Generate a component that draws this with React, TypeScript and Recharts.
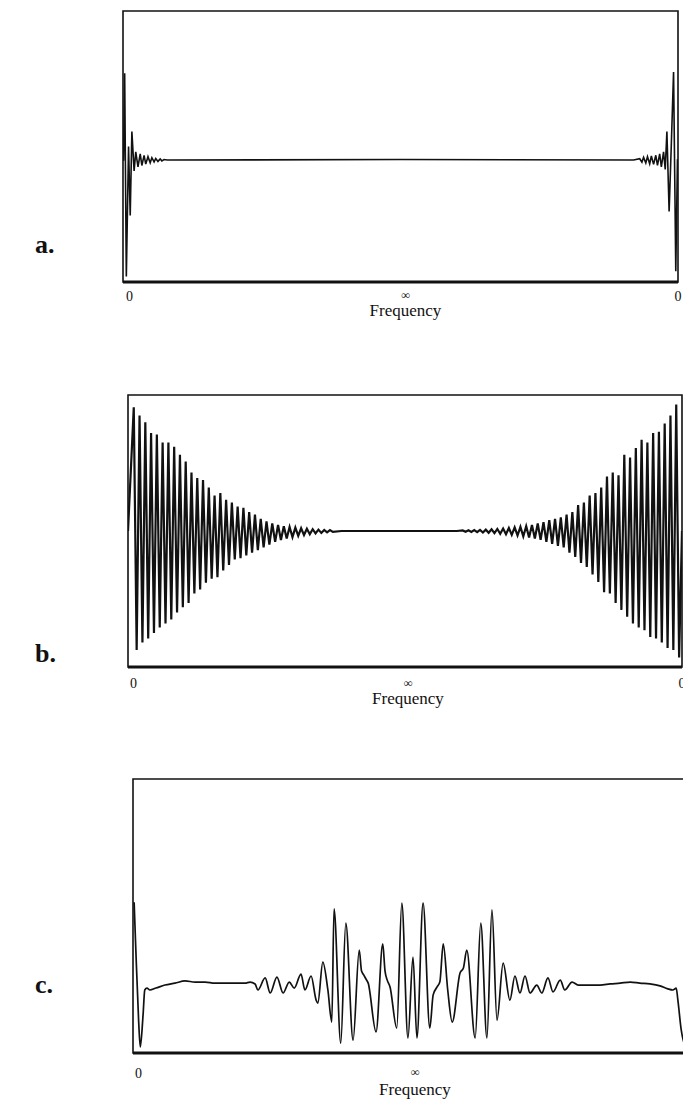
import React from 'react';
import { LineChart, Line, XAxis, YAxis, ReferenceArea } from 'recharts';

// ---------- shared text styles ----------
const SERIF = '"Liberation Serif", "DejaVu Serif", serif';
const INK = '#111';

// ---------- panel a: sharp transient, ringing only near the band edges ----------
// frequency in per-mille of the span (0 … ∞ … 0), amplitude around the baseline
const aFreq = [
  0, 1, 3, 6, 10, 13, 16, 20, 23, 27, 31, 34, 38, 41, 45, 49, 52, 56, 59, 63, 67, 70, 74, 80,
  500,
  920, 931, 935, 938, 942, 945, 949, 952, 956, 960, 963, 967, 970, 974, 977, 980, 984, 988, 992,
  996, 999, 1000,
];
const aAmp = [
  0, 0, 0.64, -0.86, 0.1, -0.41, 0.21, -0.08, 0.06, -0.05, 0.045, -0.04, 0.035, -0.03, 0.025,
  -0.02, 0.017, -0.014, 0.012, -0.01, 0.008, -0.006, 0.004, 0,
  0.004,
  0, 0.01, -0.015, 0.02, -0.022, 0.025, -0.028, 0.03, -0.032, 0.035, -0.04, 0.045, -0.05, 0.06,
  -0.07, 0.21, -0.38, 0.12, 0.65, -0.82, 0, 0,
];

// ---------- panel b: long decaying oscillation from both band edges ----------
// successive crest / trough values, one per half-cycle sample
const bLeftTops = [
  0.91, 0.85, 0.8, 0.72, 0.71, 0.65, 0.65, 0.62, 0.56, 0.51, 0.43, 0.39, 0.375, 0.32, 0.26, 0.28,
  0.23, 0.21, 0.18, 0.17, 0.14, 0.12, 0.09, 0.07, 0.055, 0.045, 0.035, 0.03, 0.025, 0.02, 0.016,
  0.013, 0.01, 0.008, 0.006,
];
const bLeftBottoms = [
  -0.875, -0.82, -0.79, -0.75, -0.71, -0.68, -0.65, -0.6, -0.56, -0.53, -0.46, -0.43, -0.38, -0.35,
  -0.34, -0.29, -0.25, -0.21, -0.2, -0.18, -0.16, -0.14, -0.12, -0.1, -0.08, -0.066, -0.055, -0.045,
  -0.036, -0.03, -0.024, -0.018, -0.014, -0.01, -0.007,
];
const bRightTops = [
  0.004, 0.005, 0.006, 0.008, 0.01, 0.012, 0.015, 0.018, 0.022, 0.026, 0.03, 0.035, 0.045, 0.055,
  0.065, 0.08, 0.09, 0.1, 0.12, 0.14, 0.19, 0.21, 0.26, 0.28, 0.32, 0.4, 0.43, 0.41, 0.56, 0.54,
  0.61, 0.67, 0.65, 0.72, 0.73, 0.79, 0.85, 0.93,
];
const bRightBottoms = [
  -0.006, -0.007, -0.009, -0.011, -0.013, -0.016, -0.02, -0.024, -0.028, -0.033, -0.04, -0.047,
  -0.055, -0.065, -0.08, -0.095, -0.11, -0.12, -0.16, -0.19, -0.235, -0.265, -0.32, -0.375, -0.45,
  -0.46, -0.53, -0.58, -0.63, -0.68, -0.71, -0.73, -0.78, -0.79, -0.82, -0.86, -0.875, -0.93,
];
const B_SAMPLES = 192;

// ---------- panel c: magnitude with a plateau and a burst around ∞ ----------
const cFreq = [
  2, 5, 10, 13, 18, 21, 25, 30, 41, 57, 75, 93, 111, 129, 146, 164, 182, 200, 209, 218, 223, 236,
  245, 257, 268, 279, 288, 300, 307, 318, 327, 330, 339, 348, 355, 359, 371, 380, 393, 404, 408,
  412, 416, 420, 434, 446, 450, 454, 459, 471, 480, 491, 500, 507, 518, 530, 536, 543, 548, 554,
  562, 570, 584, 590, 596, 611, 621, 632, 641, 650, 661, 673, 682, 691, 700, 709, 721, 730, 741,
  750, 763, 771, 784, 795, 816, 834, 852, 870, 888, 905, 923, 941, 955, 964, 970, 973, 979, 986,
  991, 998,
];
const cMag = [
  0.55, 0.38, 0.12, 0.022, 0.14, 0.23, 0.237, 0.23, 0.237, 0.248, 0.255, 0.263, 0.259, 0.259,
  0.255, 0.255, 0.255, 0.255, 0.259, 0.252, 0.23, 0.274, 0.219, 0.277, 0.219, 0.259, 0.237, 0.288,
  0.23, 0.281, 0.193, 0.182, 0.332, 0.23, 0.113, 0.526, 0.036, 0.474, 0.047, 0.376, 0.3, 0.285,
  0.27, 0.255, 0.077, 0.398, 0.3, 0.266, 0.241, 0.091, 0.547, 0.055, 0.35, 0.055, 0.547, 0.091,
  0.212, 0.241, 0.26, 0.398, 0.23, 0.113, 0.292, 0.31, 0.376, 0.055, 0.474, 0.055, 0.522, 0.12,
  0.328, 0.193, 0.281, 0.219, 0.281, 0.219, 0.248, 0.219, 0.274, 0.223, 0.266, 0.23, 0.259, 0.248,
  0.248, 0.248, 0.252, 0.255, 0.259, 0.255, 0.252, 0.245, 0.234, 0.23, 0.237, 0.193, 0.084, 0.03,
  0.12, 0.5,
];

type Pt = { f: number; v: number };

const zip = (fs: number[], vs: number[]): Pt[] => fs.map((f, i) => ({ f, v: vs[i] }));

const aData = zip(aFreq, aAmp);
const cData = zip(cFreq, cMag);

// interleave crest / trough samples into one trace
const bData: Pt[] = (() => {
  const pts: Pt[] = [{ f: 0, v: 0 }];
  bLeftTops.forEach((t, k) => {
    pts.push({ f: 2 + 2 * k, v: t });
    pts.push({ f: 3 + 2 * k, v: bLeftBottoms[k] });
  });
  pts.push({ f: 2 + 2 * bLeftTops.length + 2, v: 0 });
  const rStart = B_SAMPLES - 2 * bRightTops.length;
  pts.push({ f: rStart - 2, v: 0 });
  bRightTops.forEach((t, k) => {
    pts.push({ f: rStart + 2 * k, v: t });
    pts.push({ f: rStart + 1 + 2 * k, v: bRightBottoms[k] });
  });
  pts.push({ f: B_SAMPLES, v: 0 });
  return pts;
})();

type TickCfg = {
  mid: number;
  zeroDy: number;
  zeroInset: number;
  infDy: number;
  freqDy: number;
  shift: number;
};

const makeTick = (cfg: TickCfg) => (props: any) => {
  const { x, y, payload } = props;
  const v = payload.value;
  if (v === cfg.mid) {
    return (
      <g>
        <text
          x={x + cfg.shift}
          y={y + cfg.infDy}
          textAnchor="middle"
          fontFamily={SERIF}
          fontWeight="bold"
          fontSize={12}
          fill={INK}
        >
          ∞
        </text>
        <text
          x={x + cfg.shift}
          y={y + cfg.freqDy}
          textAnchor="middle"
          fontFamily={SERIF}
          fontSize={17}
          fill={INK}
        >
          Frequency
        </text>
      </g>
    );
  }
  const left = v === 0;
  return (
    <text
      x={left ? x + cfg.zeroInset : x}
      y={y + cfg.zeroDy}
      textAnchor={left ? 'start' : 'middle'}
      fontFamily={SERIF}
      fontSize={14}
      fill={INK}
    >
      0
    </text>
  );
};

type PanelProps = {
  data: Pt[];
  xMax: number;
  yMin: number;
  yMax: number;
  top: number;
  height: number;
  plotLeft: number;
  plotRight: number;
  plotTop: number;
  plotBottom: number;
  lineWidth: number;
  curve: 'linear' | 'monotone';
  showEndTick: boolean;
  tick: TickCfg;
};

const CHART_W = 720;
const AXIS_H = 40;

function Panel(p: PanelProps) {
  const margin = {
    top: p.plotTop - p.top,
    bottom: p.height - (p.plotBottom - p.top) - AXIS_H,
    left: p.plotLeft,
    right: CHART_W - p.plotRight,
  };
  const ticks = p.showEndTick ? [0, p.xMax / 2, p.xMax] : [0, p.xMax / 2];
  return (
    <div style={{ position: 'absolute', left: 0, top: p.top }}>
      <LineChart width={CHART_W} height={p.height} data={p.data} margin={margin}>
        <XAxis
          dataKey="f"
          type="number"
          domain={[0, p.xMax]}
          ticks={ticks}
          interval={0}
          allowDataOverflow
          height={AXIS_H}
          tickLine={false}
          axisLine={{ stroke: INK, strokeWidth: 3 }}
          tick={makeTick({ ...p.tick, mid: p.xMax / 2 })}
        />
        <YAxis type="number" domain={[p.yMin, p.yMax]} hide allowDataOverflow />
        <ReferenceArea
          x1={0}
          x2={p.xMax}
          y1={p.yMin}
          y2={p.yMax}
          fill="none"
          stroke={INK}
          strokeWidth={1.6}
          ifOverflow="visible"
        />
        <Line
          type={p.curve}
          dataKey="v"
          stroke={INK}
          strokeWidth={p.lineWidth}
          dot={false}
          activeDot={false}
          isAnimationActive={false}
        />
      </LineChart>
    </div>
  );
}

const panelLabels = [
  { text: 'a.', y: 253 },
  { text: 'b.', y: 662 },
  { text: 'c.', y: 993 },
];

export default function App() {
  return (
    <div
      style={{
        position: 'fixed',
        left: 0,
        top: 0,
        width: 683,
        height: 1099,
        overflow: 'hidden',
        background: '#fff',
      }}
    >
      <Panel
        data={aData}
        xMax={1000}
        yMin={-0.9}
        yMax={1.1}
        top={0}
        height={340}
        plotLeft={123}
        plotRight={678}
        plotTop={11}
        plotBottom={282}
        lineWidth={1.6}
        curve="linear"
        showEndTick
        tick={{ mid: 500, zeroDy: 11, zeroInset: 3, infDy: 9, freqDy: 26, shift: 5 }}
      />
      <Panel
        data={bData}
        xMax={B_SAMPLES}
        yMin={-1}
        yMax={1}
        top={370}
        height={350}
        plotLeft={128}
        plotRight={682}
        plotTop={395}
        plotBottom={667}
        lineWidth={2.2}
        curve="linear"
        showEndTick
        tick={{ mid: B_SAMPLES / 2, zeroDy: 13, zeroInset: 2, infDy: 12, freqDy: 29, shift: 3 }}
      />
      <Panel
        data={cData}
        xMax={1000}
        yMin={0}
        yMax={1}
        top={750}
        height={349}
        plotLeft={133}
        plotRight={693}
        plotTop={779}
        plotBottom={1053}
        lineWidth={1.7}
        curve="monotone"
        showEndTick={false}
        tick={{ mid: 500, zeroDy: 17, zeroInset: 2, infDy: 15, freqDy: 34, shift: 2 }}
      />
      <svg
        width={683}
        height={1099}
        style={{ position: 'absolute', left: 0, top: 0, pointerEvents: 'none' }}
      >
        {panelLabels.map((l) => (
          <text
            key={l.text}
            x={35}
            y={l.y}
            fontFamily={SERIF}
            fontWeight="bold"
            fontSize={26}
            fill={INK}
          >
            {l.text}
          </text>
        ))}
      </svg>
    </div>
  );
}
